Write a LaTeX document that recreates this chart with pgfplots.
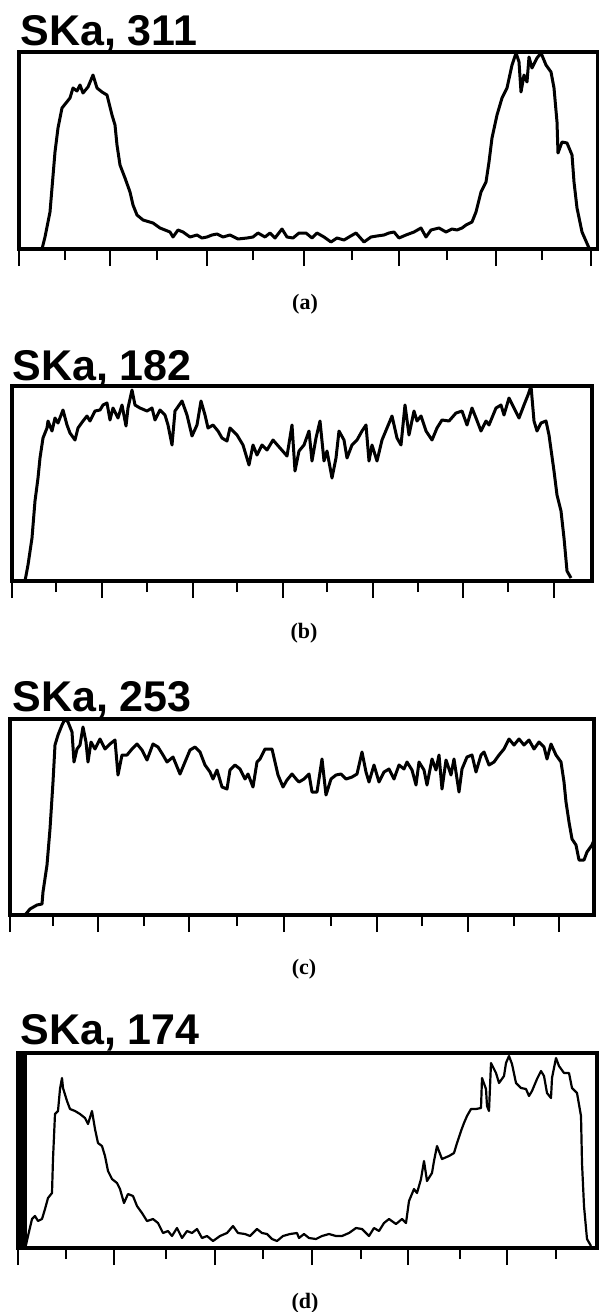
\documentclass[border=0pt]{standalone}
\usepackage{fontspec}
\setmainfont{Liberation Serif}
\newfontfamily\titlefont{Liberation Sans}
\usepackage{pgfplots}
\pgfplotsset{compat=1.18}
\pgfplotsset{
  panel/.style={
    scale only axis,
    ymin=0,
    xtick pos=left,
    ytick=\empty,
    xticklabels={},
    tick align=outside,
    major tick length=8.5pt,
    minor tick length=5.5pt,
    tick style={black, line width=1.1pt},
    axis line style={black, line width=1.6pt},
  },
  curve/.style={black, line width=1.5pt, line join=round, mark=none},
}
\newcommand{\paneltitle}[3]{\node[anchor=base west, inner sep=0pt, font=\titlefont\bfseries\fontsize{21.5pt}{22pt}\selectfont] at (#1*0.5pt, -#2*0.5pt) {#3};}
\newcommand{\panelcap}[3]{\node[anchor=base, inner sep=0pt, font=\fontsize{11pt}{13pt}\selectfont\bfseries] at (#1*0.5pt, -#2*0.5pt) {#3};}
\begin{document}
\begin{tikzpicture}
\useasboundingbox (0,0) rectangle (299.5pt,-656pt);

% ---------------- (a) ----------------
\paneltitle{20}{45}{SKa, 311}
\begin{axis}[panel,
  at={(19*0.5pt,-249*0.5pt)}, anchor=south west,
  width=289.5pt, height=98.5pt,
  xmin=19, xmax=598, ymax=197,
  xtick={19,110,207,304,399,496,591},
  minor xtick={65,157,253,352,447,542}]
\addplot[curve] coordinates {
(42,0)(45,12)(50,37)(52,61)(55,97)(58,121)(62,141)(66,146)(70,151)(73,161)(77,158)(80,164)(83,156)(88,162)(93,174)(97,161)(102,157)(107,154)(112,134)(115,124)(117,104)(120,84)(125,71)(130,57)(133,44)(137,34)(143,29)(153,26)(160,21)(165,19)(170,17)(173,12)(178,19)(183,17)(190,12)(197,14)(202,11)(207,12)(212,14)(217,15)(223,12)(230,14)(238,10)(247,11)(253,12)(258,16)(265,12)(270,16)(275,11)(282,20)(287,12)(293,11)(299,16)(306,16)(312,11)(317,16)(324,12)(331,7)(337,11)(344,9)(349,12)(356,16)(364,7)(371,12)(377,13)(384,14)(389,16)(394,17)(399,11)(406,14)(414,17)(421,21)(426,12)(431,19)(439,21)(446,17)(452,20)(457,19)(462,21)(466,24)(472,27)(476,37)(481,57)(486,67)(489,87)(492,111)(497,134)(502,151)(507,161)(512,184)(516,196)(519,187)(521,157)(524,174)(527,167)(529,192)(532,181)(537,191)(541,196)(546,184)(551,177)(554,161)(557,127)(558,96)(562,107)(567,106)(572,94)(574,67)(577,41)(582,17)(589,1)(591,0)
};
\end{axis}
\panelcap{305}{309}{(a)}

% ---------------- (b) ----------------
\paneltitle{12}{380}{SKa, 182}
\begin{axis}[panel,
  at={(12*0.5pt,-581*0.5pt)}, anchor=south west,
  width=290pt, height=97.5pt,
  xmin=12, xmax=592, ymax=195,
  xtick={12,102,193,283,373,463,554},
  minor xtick={56,147,237,327,418,508}]
\addplot[curve] coordinates {
(25,0)(28,16)(32,43)(35,80)(38,103)(40,123)(43,143)(47,153)(48,160)(52,150)(55,163)(58,158)(63,171)(67,156)(70,148)(75,141)(78,153)(83,160)(87,165)(90,160)(95,170)(100,171)(103,176)(107,178)(110,161)(113,173)(118,163)(122,176)(126,155)(128,173)(132,191)(135,176)(140,173)(147,170)(152,173)(155,161)(160,171)(165,166)(168,156)(172,136)(175,170)(182,180)(187,166)(192,145)(197,156)(201,180)(205,166)(208,153)(213,156)(218,150)(222,143)(227,140)(230,153)(237,146)(243,136)(249,116)(253,136)(257,126)(262,136)(267,131)(273,141)(280,133)(287,125)(292,156)(295,110)(299,130)(304,136)(309,150)(312,120)(316,143)(320,160)(324,120)(327,130)(332,103)(336,123)(339,150)(344,141)(347,123)(352,136)(357,141)(362,150)(366,156)(369,120)(372,136)(377,120)(382,141)(387,153)(392,165)(397,143)(401,136)(405,176)(409,146)(414,170)(417,160)(421,165)(426,150)(432,141)(437,153)(442,161)(449,160)(456,168)(462,170)(467,156)(472,173)(476,163)(481,150)(486,160)(489,156)(496,173)(501,176)(504,166)(509,183)(514,173)(519,163)(524,176)(528,186)(531,195)(534,160)(537,150)(541,158)(546,160)(549,146)(554,110)(557,86)(561,70)(564,43)(567,10)(571,3)
};
\end{axis}
\panelcap{304}{638}{(b)}

% ---------------- (c) ----------------
\paneltitle{12}{711}{SKa, 253}
\begin{axis}[panel,
  at={(10*0.5pt,-915*0.5pt)}, anchor=south west,
  width=292pt, height=98pt,
  xmin=10, xmax=594, ymax=196,
  xtick={10,98,189,284,377,468,559},
  minor xtick={53,144,237,331,422,514}]
\addplot[curve] coordinates {
(25,0)(30,6)(37,10)(42,11)(43,23)(47,50)(50,86)(53,133)(55,170)(58,180)(62,190)(65,196)(68,193)(72,183)(74,153)(77,166)(80,170)(83,188)(86,173)(88,153)(91,173)(95,166)(100,176)(105,166)(110,171)(115,175)(118,140)(122,160)(127,160)(132,166)(137,171)(142,165)(147,155)(153,171)(158,168)(163,160)(167,153)(173,158)(180,141)(185,153)(190,165)(195,168)(200,163)(205,150)(210,143)(213,136)(217,145)(222,128)(227,126)(230,145)(235,150)(240,146)(245,136)(248,141)(253,128)(257,153)(260,156)(265,166)(272,166)(275,153)(278,140)(283,128)(287,135)(292,141)(297,135)(299,133)(304,136)(309,141)(312,123)(317,123)(322,156)(326,120)(331,136)(336,140)(341,141)(346,136)(352,138)(357,141)(362,163)(366,143)(369,133)(374,150)(379,133)(384,143)(389,146)(394,136)(399,150)(404,146)(407,153)(412,145)(416,130)(419,153)(424,145)(427,130)(432,156)(436,145)(439,160)(442,126)(446,155)(451,140)(454,156)(459,123)(462,146)(467,158)(472,160)(476,143)(481,160)(484,163)(489,150)(494,153)(499,160)(504,166)(509,176)(514,170)(519,176)(524,170)(529,175)(534,166)(539,173)(544,168)(547,156)(551,171)(556,160)(561,153)(564,133)(566,113)(569,93)(572,76)(576,70)(579,55)(584,55)(587,63)(592,70)(594,75)
};
\end{axis}
\panelcap{304}{974}{(c)}

% ---------------- (d) ----------------
\paneltitle{20}{1044}{SKa, 174}
\begin{axis}[panel,
  at={(18*0.5pt,-1248*0.5pt)}, anchor=south west,
  width=289.5pt, height=97.5pt,
  xmin=18, xmax=597, ymax=195,
  xtick={18,114,215,312,408,507},
  minor xtick={66,166,263,361,460,556}]
\addplot[fill=black, draw=black, line width=0.5pt] coordinates {(18,0)(18,195)(26,195)(26,0)} -- cycle;
\addplot[curve, line width=1.1pt] coordinates {
(26,3)(28,12)(32,29)(35,32)(38,27)(42,29)(45,39)(48,50)(52,55)(53,89)(55,134)(58,137)(60,159)(62,170)(63,160)(67,147)(70,139)(75,137)(80,134)(85,130)(88,124)(92,137)(95,119)(98,105)(102,102)(105,92)(108,77)(112,69)(117,65)(120,59)(124,45)(128,54)(133,52)(137,42)(142,35)(147,27)(153,29)(158,25)(163,15)(168,17)(172,12)(177,20)(182,10)(187,17)(192,15)(197,19)(202,10)(207,12)(213,7)(220,12)(227,15)(233,22)(238,15)(245,14)(250,12)(257,19)(262,15)(267,14)(272,9)(277,7)(283,12)(290,14)(297,15)(299,10)(304,14)(309,10)(316,9)(322,12)(329,14)(336,12)(342,12)(349,15)(356,20)(362,19)(369,12)(374,20)(379,17)(384,25)(389,29)(396,24)(402,29)(406,25)(409,47)(414,59)(417,55)(421,69)(424,87)(427,67)(432,75)(434,87)(437,102)(442,89)(449,92)(454,95)(457,105)(461,117)(464,125)(467,132)(471,139)(476,139)(481,140)(482,170)(486,159)(487,142)(489,137)(491,185)(496,175)(499,165)(504,172)(506,185)(509,192)(512,184)(516,165)(521,160)(526,159)(529,152)(532,157)(537,169)(541,177)(544,172)(547,155)(551,150)(552,170)(556,190)(559,182)(564,175)(569,175)(572,160)(577,155)(581,132)(582,85)(584,42)(587,9)(591,2)
};
\end{axis}
\panelcap{305}{1308}{(d)}
\end{tikzpicture}
\end{document}
